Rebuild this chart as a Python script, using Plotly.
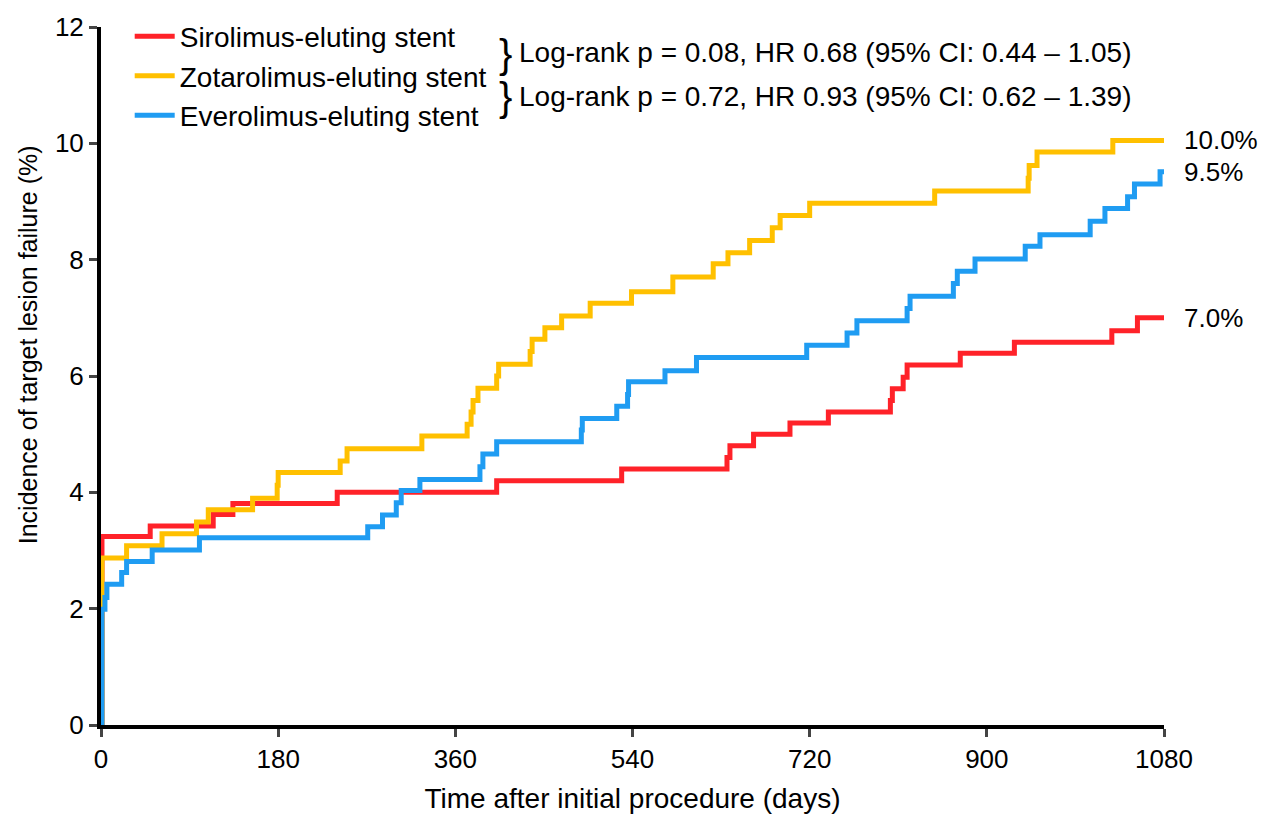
import plotly.graph_objects as go

# ---- data ----
series_names = ["Sirolimus-eluting stent", "Zotarolimus-eluting stent", "Everolimus-eluting stent"]
series_colors = ["#FF2229", "#FFC000", "#1F9CF2"]

sirolimus_days = [0, 1, 50, 114, 134, 240, 402, 529, 636, 639, 663, 700, 739, 802, 804, 815, 819, 873, 928, 1027, 1053, 1080]
sirolimus_pct = [0, 3.24, 3.42, 3.62, 3.81, 4.0, 4.2, 4.4, 4.6, 4.8, 5.0, 5.19, 5.38, 5.58, 5.78, 5.98, 6.19, 6.39, 6.58, 6.78, 7.0, 7.0]

zotarolimus_days = [0, 1, 26, 62, 97, 109, 154, 179, 180, 243, 250, 326, 372, 376, 378, 383, 402, 404, 436, 438, 451, 468,
                    497, 539, 581, 622, 637, 659, 682, 690, 720, 847, 942, 943, 951, 1028, 1080]
zotarolimus_pct = [0, 2.87, 3.08, 3.29, 3.49, 3.7, 3.9, 4.12, 4.34, 4.54, 4.75, 4.97, 5.17, 5.38, 5.58, 5.79, 6.0, 6.2, 6.42, 6.63, 6.83, 7.03,
                   7.25, 7.45, 7.7, 7.93, 8.12, 8.33, 8.55, 8.76, 8.97, 9.18, 9.4, 9.62, 9.85, 10.05, 10.05]

everolimus_days = [0, 1, 4, 6, 21, 26, 52, 100, 271, 286, 300, 305, 324, 385, 388, 402, 488, 489, 524, 535, 536, 573, 605,
                   717, 758, 768, 819, 822, 866, 870, 888, 939, 954, 1005, 1020, 1043, 1050, 1076, 1080]
everolimus_pct = [0, 1.99, 2.19, 2.42, 2.62, 2.81, 3.01, 3.22, 3.41, 3.61, 3.82, 4.03, 4.22, 4.44, 4.66, 4.87, 5.07, 5.27, 5.48, 5.68, 5.9, 6.09, 6.32,
                  6.53, 6.74, 6.95, 7.16, 7.37, 7.59, 7.8, 8.01, 8.23, 8.43, 8.66, 8.88, 9.08, 9.3, 9.51, 9.51]

end_labels = ["7.0%", "10.0%", "9.5%"]

x_ticks = [0, 180, 360, 540, 720, 900, 1080]
y_ticks = [0, 2, 4, 6, 8, 10, 12]

logrank_texts = [
    "Log-rank p = 0.08, HR 0.68 (95% CI: 0.44 \u2013 1.05)",
    "Log-rank p = 0.72, HR 0.93 (95% CI: 0.62 \u2013 1.39)",
]

FONT = "Liberation Sans, Arial, Helvetica, sans-serif"
FS = 26
FS_TEXT = 28

fig = go.Figure()
all_days = [sirolimus_days, zotarolimus_days, everolimus_days]
all_pct = [sirolimus_pct, zotarolimus_pct, everolimus_pct]
for i, (name, color, xd, yd) in enumerate(zip(series_names, series_colors, all_days, all_pct)):
    fig.add_trace(go.Scatter(
        x=xd, y=yd, mode="lines", name=name,
        line=dict(color=color, width=5, shape="hv"),
        legendgroup=f"g{i}",
    ))

# end-of-curve labels
for lab, yd in zip(end_labels, all_pct):
    fig.add_annotation(x=1080, y=yd[-1], xref="x", yref="y", text=lab, showarrow=False,
                       xanchor="left", yanchor="middle", xshift=18,
                       font=dict(family=FONT, size=FS, color="black"))

# braces + log-rank texts
brace_y = [11.53, 10.80]
text_y = [11.56, 10.81]
for by, ty, t in zip(brace_y, text_y, logrank_texts):
    fig.add_annotation(x=411, y=by, xref="x", yref="y", text="}", showarrow=False,
                       xanchor="center", yanchor="middle",
                       font=dict(family=FONT, size=40, color="black"))
    fig.add_annotation(x=423, y=ty, xref="x", yref="y", text=t, showarrow=False,
                       xanchor="left", yanchor="middle",
                       font=dict(family=FONT, size=FS_TEXT, color="black"))

# y-axis title (placed as in the reference, slightly above the plot's centre)
fig.add_annotation(x=-0.069, y=0.545, xref="paper", yref="paper",
                   text="Incidence of target lesion failure (%)", textangle=-90,
                   showarrow=False, xanchor="center", yanchor="middle",
                   font=dict(family=FONT, size=25, color="black"))

fig.update_layout(
    width=1267, height=822,
    margin=dict(l=101, r=103, t=23, b=91),
    plot_bgcolor="white", paper_bgcolor="white",
    font=dict(family=FONT, size=FS, color="black"),
    legend=dict(x=0.027, y=1.022, xanchor="left", yanchor="top",
                bgcolor="rgba(0,0,0,0)", font=dict(family=FONT, size=FS_TEXT),
                tracegroupgap=0, itemwidth=40),
    showlegend=True,
)
fig.update_xaxes(range=[0, 1080], tickvals=x_ticks, ticks="outside", ticklen=8, tickwidth=3,
                 showline=True, linecolor="black", linewidth=4, showgrid=False, zeroline=False,
                 title=dict(text="Time after initial procedure (days)", font=dict(family=FONT, size=FS_TEXT), standoff=16),
                 tickfont=dict(family=FONT, size=FS))
fig.update_yaxes(range=[0, 12], tickvals=y_ticks, ticks="outside", ticklen=8, tickwidth=3,
                 showline=True, linecolor="black", linewidth=4, showgrid=False, zeroline=False,
                 tickfont=dict(family=FONT, size=FS))

fig.write_html("out.html", config={"displayModeBar": False},
               post_script="document.body.style.margin='0px';document.body.style.overflow='hidden';")
